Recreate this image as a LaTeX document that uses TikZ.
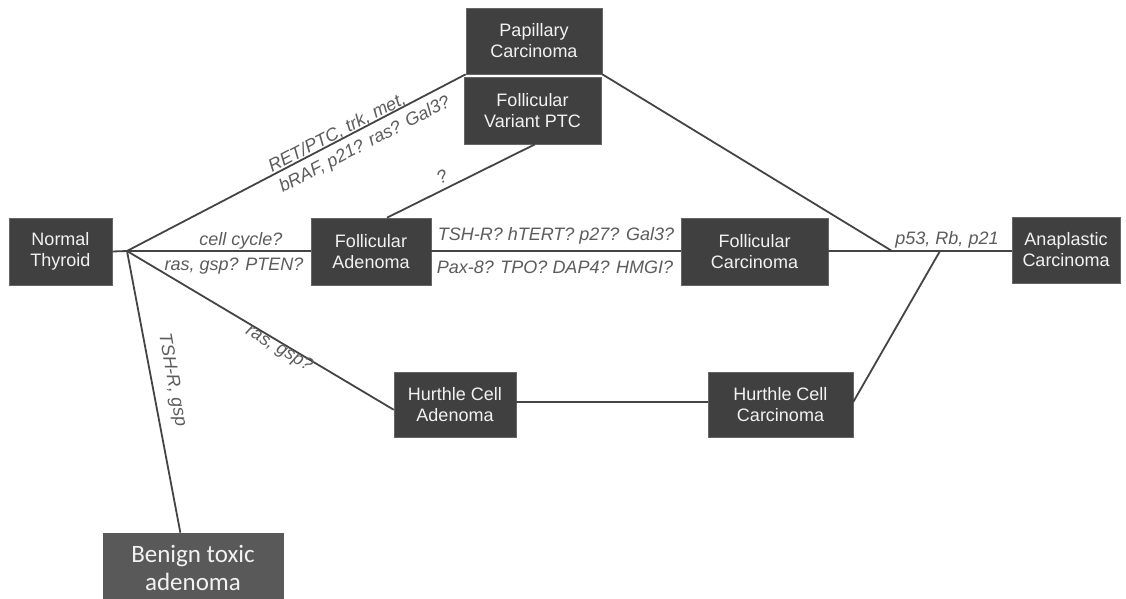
\documentclass[tikz,border=0pt]{standalone}
\usepackage{fontspec}
\setmainfont{Liberation Sans}
\newfontfamily\calibrifont{Carlito}
\usetikzlibrary{calc}
\definecolor{boxfill}{HTML}{404040}
\definecolor{boxtext}{HTML}{F2F2F2}
\definecolor{benignfill}{HTML}{595959}
\definecolor{linecol}{HTML}{444444}
\definecolor{labcol}{HTML}{5C5C5C}
\tikzset{
  stagebox/.style={rectangle, fill=boxfill, draw=boxfill!80!white, line width=0.6pt,
    text=boxtext, align=center, inner sep=0pt,
    font=\fontsize{18}{21}\selectfont},
  conn/.style={draw=linecol, line width=1.8pt},
  lab/.style={text=labcol, inner sep=0pt, font=\fontsize{18}{21}\selectfont\itshape}
}
\begin{document}
\begin{tikzpicture}[x=1pt,y=-1pt]
\useasboundingbox (0,0) rectangle (1126,599);
\clip (0,0) rectangle (1126,599);
\fill[white] (0,0) rectangle (1126,599);

% nodes
\node[stagebox, minimum width=103pt, minimum height=67pt] (nt) at (60.5,251.5) {Normal\\Thyroid};
\node[stagebox, minimum width=136pt, minimum height=66pt] (pc) at (534,41) {Papillary\\Carcinoma};
\node[stagebox, minimum width=137pt, minimum height=67pt] (fv) at (532.5,110.5) {Follicular\\Variant PTC};
\node[stagebox, minimum width=120pt, minimum height=67pt] (fa) at (371,251.5) {Follicular\\Adenoma};
\node[stagebox, minimum width=147pt, minimum height=67pt] (fc) at (754.5,251.5) {Follicular\\Carcinoma};
\node[stagebox, minimum width=108pt, minimum height=66pt] (ac) at (1066,250) {Anaplastic\\Carcinoma};
\node[stagebox, minimum width=122pt, minimum height=65pt] (ha) at (455,404.5) {Hurthle Cell\\Adenoma};
\node[stagebox, minimum width=145pt, minimum height=65pt] (hc) at (780.5,404.5) {Hurthle Cell\\Carcinoma};
\node[stagebox, fill=benignfill, draw=benignfill, minimum width=180pt, minimum height=70pt,
      font=\calibrifont\fontsize{25}{28}\selectfont, text=boxtext] (bt) at (193,568) {Benign toxic\\adenoma};

% junction coordinates
\coordinate (b) at (127,251);
\coordinate (j1) at (892,251);
\coordinate (j2) at (940,251);

% connectors
\draw[conn] (nt.east) -- (b);
\draw[conn] (b) -- (fa.west |- b);
\draw[conn] (b) -- (pc.south west);
\draw[conn] (pc.south east) -- (j1);
\draw[conn] ($(fa.north)+(16,0)$) -- ($(fv.south)+(2.5,0)$);
\draw[conn] (fa.east |- b) -- (fc.west |- b);
\draw[conn] (fc.east |- b) -- (j1) -- (j2) -- (ac.west |- b);
\draw[conn] (b) -- ($(ha.north west)!0.58!(ha.south west)$);
\draw[conn] ($(bt.north west)!0.43!(bt.north east)$) -- (b);
\draw[conn] ($(ha.north east)!0.46!(ha.south east)$) -- ($(hc.north west)!0.46!(hc.south west)$);
\draw[conn] ($(hc.north east)!0.46!(hc.south east)$) -- (j2);

% labels
\node[lab, rotate=27.4] (l1) at (337,133) {RET/PTC, trk, met,};
\node[lab, rotate=27.4] (l2) at (365,145) {bRAF, p21? ras? Gal3?};
\node[lab, rotate=26] (l3) at (442,177) {?};
\node[lab] (l4) at (241,241) {cell cycle?};
\node[lab] (l5) at (234,266) {ras, gsp? PTEN?};
\node[lab] (l6) at (556,236) {TSH-R? hTERT? p27? Gal3?};
\node[lab] (l7) at (555,267) {Pax-8? TPO? DAP4? HMGI?};
\node[lab] (l8) at (947,240) {p53, Rb, p21};
\node[lab, rotate=-30.8] (l9) at (279,349) {ras, gsp?};
\node[lab, rotate=-79.4] (l10) at (172,380) {TSH-R, gsp};
\end{tikzpicture}
\end{document}
